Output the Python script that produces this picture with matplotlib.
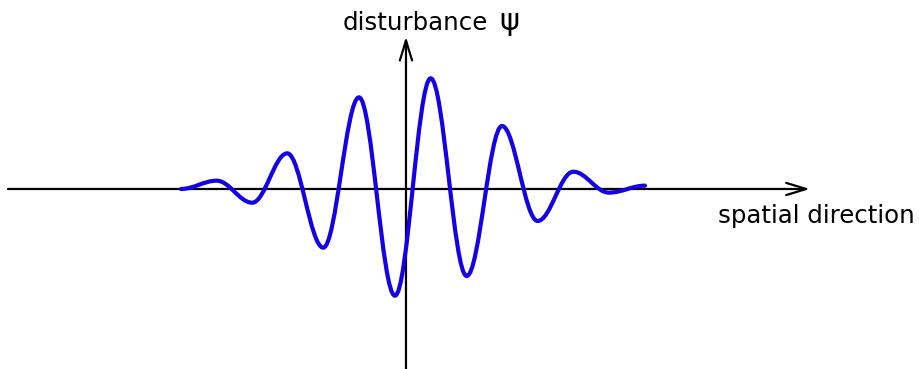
import matplotlib
matplotlib.use("Agg")
import matplotlib.pyplot as plt
from matplotlib.path import Path
from matplotlib.patches import PathPatch

# Key points of the wave packet (start, successive extrema, end)
packet_x = [-3.142, -2.644, -2.147, -1.658, -1.155, -0.656, -0.154,
            0.345, 0.848, 1.341, 1.839, 2.337, 2.835, 3.338]
packet_y = [0.0, 0.075, -0.124, 0.322, -0.530, 0.828, -0.964,
            1.0, -0.786, 0.569, -0.289, 0.156, -0.033, 0.030]

x_label = "spatial direction"
y_label = "disturbance"
y_symbol = "ψ"

fig = plt.figure(figsize=(9.19, 3.69), dpi=100)
ax = fig.add_axes([0, 0, 1, 1])
ax.set_xlim(-5.670, 7.165)
ax.set_ylim(-1.626, 1.707)
ax.axis("off")

# Axes with open arrowheads
arrow_kw = dict(arrowstyle="->,head_length=0.72,head_width=0.22", lw=1.6,
                color="black", mutation_scale=20, shrinkA=0, shrinkB=0)
ax.annotate("", xy=(5.642, 0), xytext=(-5.559, 0), arrowprops=arrow_kw)
ax.annotate("", xy=(0, 1.376), xytext=(0, -1.7), arrowprops=arrow_kw)

# Smooth curve through the extrema using cubic Bezier segments
k = 0.363
verts = [(packet_x[0], packet_y[0])]
codes = [Path.MOVETO]
for i in range(len(packet_x) - 1):
    xa, ya = packet_x[i], packet_y[i]
    xb, yb = packet_x[i + 1], packet_y[i + 1]
    d = xb - xa
    verts += [(xa + k * d, ya), (xb - k * d, yb), (xb, yb)]
    codes += [Path.CURVE4] * 3
patch = PathPatch(Path(verts, codes), facecolor="none", edgecolor="#1400e6",
                  lw=3.0, capstyle="round", joinstyle="round", zorder=3)
ax.add_patch(patch)

ax.text(-0.884, 1.436, y_label, fontsize=17.6, ha="left", va="baseline",
        family=["DejaVu Sans"])
ax.text(1.446, 1.436, y_symbol, fontsize=22, ha="center", va="baseline",
        family=["DejaVu Sans"])
ax.text(4.358, -0.307, x_label, fontsize=17.6, ha="left", va="baseline",
        family=["DejaVu Sans"])

fig.savefig("out.png", dpi=100)
